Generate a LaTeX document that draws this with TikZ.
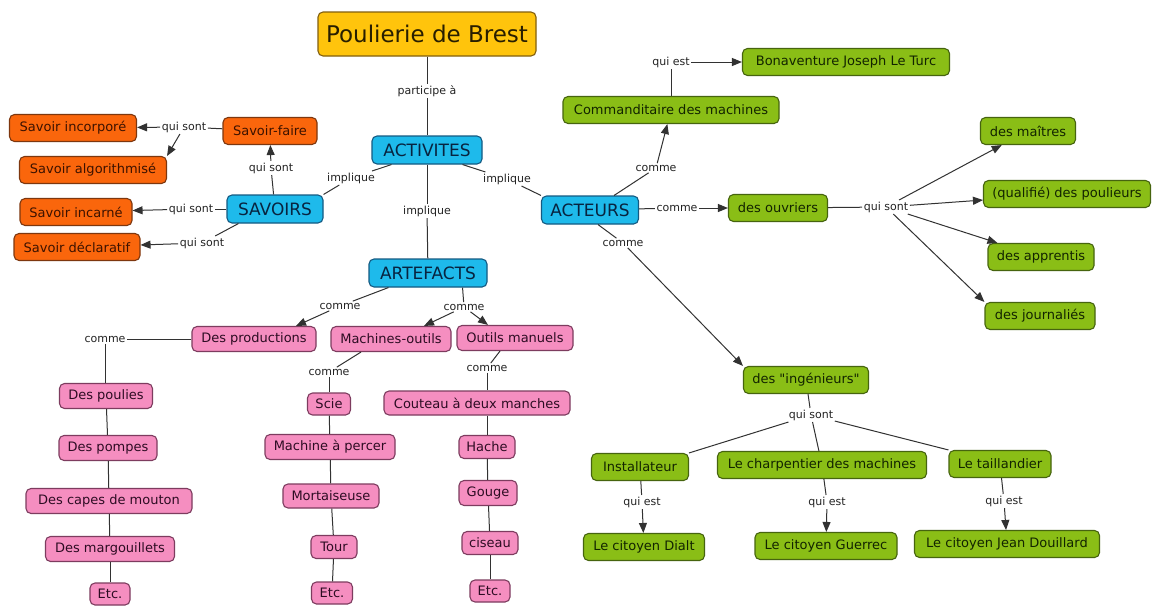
\documentclass[tikz,border=0pt]{standalone}
\usepackage{fontspec}
\setmainfont{DejaVu Sans}
\newfontfamily\plainf{DejaVu Sans}
\usetikzlibrary{arrows.meta,calc}
\definecolor{orF}{RGB}{250,102,12}
\definecolor{orD}{RGB}{125,55,15}
\definecolor{orT}{RGB}{60,18,0}
\definecolor{grF}{RGB}{138,190,22}
\definecolor{grD}{RGB}{70,100,15}
\definecolor{grT}{RGB}{18,36,0}
\definecolor{pkF}{RGB}{245,142,192}
\definecolor{pkD}{RGB}{125,60,95}
\definecolor{pkT}{RGB}{45,12,35}
\definecolor{cyF}{RGB}{30,186,235}
\definecolor{cyD}{RGB}{20,90,130}
\definecolor{cyT}{RGB}{8,36,64}
\definecolor{gdF}{RGB}{255,196,12}
\definecolor{gdD}{RGB}{130,95,15}
\definecolor{gdT}{RGB}{40,30,0}
\definecolor{lnC}{RGB}{50,50,50}
\definecolor{lblT}{RGB}{35,35,35}
\tikzset{
  box/.style={rounded corners=5pt, line width=1.1pt, inner xsep=3pt, inner ysep=2pt, minimum height=27pt, font=\fontsize{13}{15}\selectfont},
  orb/.style={box, fill=orF, draw=orD, text=orT},
  grb/.style={box, fill=grF, draw=grD, text=grT},
  pkb/.style={box, fill=pkF, draw=pkD, text=pkT, minimum height=25pt},
  cyb/.style={box, fill=cyF, draw=cyD, text=cyT, font=\fontsize{17}{19}\selectfont, minimum height=28pt},
  gdb/.style={box, fill=gdF, draw=gdD, text=gdT, font=\fontsize{23}{26}\selectfont, minimum height=44pt},
  lbl/.style={font=\fontsize{11}{13}\selectfont, text=lblT, inner sep=1.5pt},
  ln/.style={draw=lnC, line width=1pt},
  arr/.style={ln, -{Triangle[length=10pt,width=8pt]}},
}
\begin{document}
\begin{tikzpicture}[x=1pt,y=-1pt]
\useasboundingbox[fill=white] (0,0) rectangle (1152,606);

% main nodes
\node[gdb, minimum width=218pt] (poul) at (427,34) {Poulierie de Brest};
\node[cyb, minimum width=110pt] (act) at (427,150) {ACTIVITES};
\node[cyb, minimum width=96pt] (sav) at (275,209) {SAVOIRS};
\node[cyb, minimum width=97pt] (acteurs) at (590,210) {ACTEURS};
\node[cyb, minimum width=118pt] (art) at (428,273) {ARTEFACTS};

% savoirs
\node[orb, minimum width=127pt] (sinc) at (73,128) {Savoir incorporé};
\node[orb, minimum width=94pt] (sfaire) at (270,131) {Savoir-faire};
\node[orb, minimum width=147pt] (salg) at (93,170) {Savoir algorithmisé};
\node[orb, minimum width=112pt] (sincar) at (76,212) {Savoir incarné};
\node[orb, minimum width=126pt] (sdecl) at (77,247) {Savoir déclaratif};

% acteurs
\node[grb, minimum width=207pt] (bona) at (846,62) {Bonaventure Joseph Le Turc};
\node[grb, minimum width=216pt] (comm) at (671,110) {Commanditaire des machines};
\node[grb, minimum width=99pt] (ouv) at (778,208) {des ouvriers};
\node[grb, minimum width=95pt] (maitres) at (1028,131) {des maîtres};
\node[grb, minimum width=167pt] (qual) at (1067,194) {(qualifié) des poulieurs};
\node[grb, minimum width=106pt] (appr) at (1041,257) {des apprentis};
\node[grb, minimum width=110pt] (journ) at (1040,316) {des journaliés};
\node[grb, minimum width=125pt] (ing) at (806,380) {\plainf des "ingénieurs"};
\node[grb, minimum width=97pt] (inst) at (640,467) {Installateur};
\node[grb, minimum width=209pt] (charp) at (822,465) {Le charpentier des machines};
\node[grb, minimum width=102pt] (taill) at (1000,464) {Le taillandier};
\node[grb, minimum width=121pt] (dialt) at (644,547) {Le citoyen Dialt};
\node[grb, minimum width=142pt] (guerr) at (826,546) {Le citoyen Guerrec};
\node[grb, minimum width=185pt] (douil) at (1007,544) {Le citoyen Jean Douillard};

% artefacts
\node[pkb, minimum width=124pt] (prod) at (254,339) {Des productions};
\node[pkb, minimum width=120pt] (mach) at (391,339) {Machines-outils};
\node[pkb, minimum width=116pt] (outm) at (515,338) {Outils manuels};
\node[pkb, minimum width=93pt] (poulies) at (106,396) {Des poulies};
\node[pkb, minimum width=98pt] (pompes) at (108,448) {Des pompes};
\node[pkb, minimum width=166pt] (capes) at (109,501) {Des capes de mouton};
\node[pkb, minimum width=129pt] (margo) at (110,549) {Des margouillets};
\node[pkb, minimum width=40pt, minimum height=22pt] (etc1) at (110,594) {Etc.};
\node[pkb, minimum width=43pt, minimum height=22pt] (scie) at (329,404) {Scie};
\node[pkb, minimum width=130pt] (perc) at (330,447) {Machine à percer};
\node[pkb, minimum width=96pt, minimum height=24pt] (mort) at (331,496) {Mortaiseuse};
\node[pkb, minimum width=46pt, minimum height=23pt] (tour) at (334,547) {Tour};
\node[pkb, minimum width=41pt, minimum height=22pt] (etc2) at (332,593) {Etc.};
\node[pkb, minimum width=186pt, minimum height=24pt] (cout) at (477,403) {Couteau à deux manches};
\node[pkb, minimum width=56pt, minimum height=23pt] (hache) at (487,447) {Hache};
\node[pkb, minimum width=58pt] (gouge) at (488,493) {Gouge};
\node[pkb, minimum width=56pt, minimum height=23pt] (ciseau) at (490,543) {ciseau};
\node[pkb, minimum width=40pt, minimum height=22pt] (etc3) at (490,591) {Etc.};

% labels
\node[lbl] (lpart) at (427,91) {participe à};
\node[lbl] (limpL) at (351,178) {implique};
\node[lbl] (limpC) at (427,211) {implique};
\node[lbl] (limpR) at (507,179) {implique};
\node[lbl] (lqs1) at (184,127) {qui sont};
\node[lbl] (lqs2) at (271,168) {qui sont};
\node[lbl] (lqs3) at (191,209) {qui sont};
\node[lbl] (lqs4) at (202,243) {qui sont};
\node[lbl] (lqe1) at (671,62) {qui est};
\node[lbl] (lcom1) at (656,168) {comme};
\node[lbl] (lcom2) at (677,208) {comme};
\node[lbl] (lcom3) at (623,243) {comme};
\node[lbl] (lqs5) at (886,207) {qui sont};
\node[lbl] (lqs6) at (811,415) {qui sont};
\node[lbl] (lqe2) at (642,502) {qui est};
\node[lbl] (lqe3) at (827,502) {qui est};
\node[lbl] (lqe4) at (1004,501) {qui est};
\node[lbl] (lcomA) at (340,306) {comme};
\node[lbl] (lcomB) at (464,307) {comme};
\node[lbl] (lcomP) at (105,339) {comme};
\node[lbl] (lcomM) at (329,372) {comme};
\node[lbl] (lcomO) at (487,368) {comme};

% anchor points on boxes
\coordinate (aSW) at ($(act.south west)+(20,0)$);
\coordinate (aSE) at ($(act.south east)+(-20,0)$);
\coordinate (sSW) at ($(sav.south west)+(12,0)$);
\coordinate (cNE) at ($(acteurs.north east)+(-25,0)$);
\coordinate (cS) at ($(acteurs.south)+(8,0)$);
\coordinate (rSW) at ($(art.south west)+(20,0)$);
\coordinate (rSE) at ($(art.south east)+(-25,0)$);
\coordinate (prodT) at ($(prod.north)+(42,0)$);
\coordinate (machT) at ($(mach.north)+(33,0)$);
\coordinate (outmT) at ($(outm.north)+(-27,0)$);
\coordinate (machB) at ($(mach.south)+(-30,0)$);
\coordinate (outmB) at ($(outm.south)+(-15,0)$);

% connectors: top
\draw[ln] (poul) -- (lpart);
\draw[ln] (lpart) -- (act);
\draw[ln] (aSW) -- (limpL);
\draw[ln] (limpL) -- (sav.north east);
\draw[ln] (act) -- (limpC);
\draw[ln] (limpC) -- (art);
\draw[ln] (aSE) -- (limpR);
\draw[ln] (limpR) -- (acteurs.north west);

% savoirs
\draw[ln] (sfaire) -- (lqs1);
\draw[arr] (lqs1) -- (sinc);
\draw[arr] (lqs1) -- (salg.north east);
\draw[ln] (sav) -- (lqs2);
\draw[arr] (lqs2) -- (sfaire);
\draw[ln] (sav) -- (lqs3);
\draw[arr] (lqs3) -- (sincar);
\draw[ln] (sSW) -- (lqs4);
\draw[arr] (lqs4) -- (sdecl);

% acteurs
\draw[ln] (cNE) -- (lcom1);
\draw[arr] (lcom1) -- (comm);
\draw[ln] (comm) -- (lqe1);
\draw[arr] (lqe1) -- (bona);
\draw[ln] (acteurs) -- (lcom2);
\draw[arr] (lcom2) -- (ouv);
\draw[ln] (ouv) -- (lqs5);
\draw[arr] (lqs5) -- (maitres);
\draw[arr] (lqs5) -- (qual);
\draw[arr] (lqs5) -- (appr);
\draw[arr] (lqs5) -- (journ.north west);
\draw[ln] (cS) -- (lcom3);
\draw[arr] (lcom3) -- (ing.north west);
\draw[ln] (ing) -- (lqs6);
\draw[ln] (lqs6) -- (inst.north east);
\draw[ln] (lqs6) -- (charp);
\draw[ln] (lqs6) -- (taill.north west);
\draw[ln] (inst) -- (lqe2);
\draw[arr] (lqe2) -- (dialt);
\draw[ln] (charp) -- (lqe3);
\draw[arr] (lqe3) -- (guerr);
\draw[ln] (taill) -- (lqe4);
\draw[arr] (lqe4) -- (douil);

% artefacts
\draw[ln] (rSW) -- (lcomA);
\draw[arr] (lcomA) -- (prodT);
\draw[ln] (rSE) -- (lcomB);
\draw[arr] (lcomB) -- (machT);
\draw[arr] (lcomB) -- (outmT);
\draw[ln] (prod) -- (lcomP);
\draw[ln] (lcomP) -- (lcomP |- poulies.north);
\draw[ln] (poulies) -- (pompes);
\draw[ln] (pompes) -- (capes);
\draw[ln] (capes) -- (margo);
\draw[ln] (margo) -- (etc1);
\draw[ln] (machB) -- (lcomM);
\draw[ln] (lcomM) -- (scie);
\draw[ln] (scie) -- (perc);
\draw[ln] (perc) -- (mort);
\draw[ln] (mort) -- (tour);
\draw[ln] (tour) -- (etc2);
\draw[ln] (outmB) -- (lcomO);
\draw[ln] (lcomO) -- (lcomO |- cout.north);
\draw[ln] (hache |- cout.south) -- (hache);
\draw[ln] (hache) -- (gouge);
\draw[ln] (gouge) -- (ciseau);
\draw[ln] (ciseau) -- (etc3);
\end{tikzpicture}
\end{document}
